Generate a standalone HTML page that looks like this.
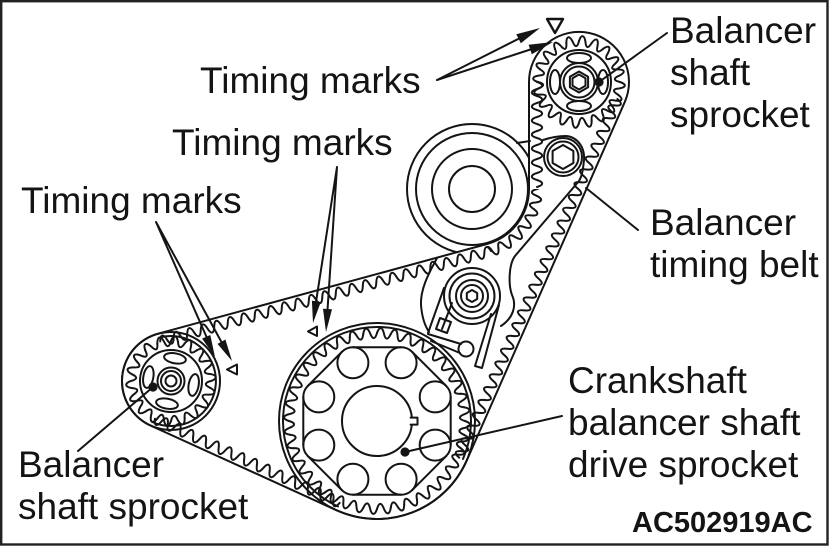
<!DOCTYPE html>
<html><head><meta charset="utf-8"><style>
html,body{margin:0;padding:0;background:#fff}
svg{display:block}
.s{fill:none;stroke:#141414;stroke-width:2;stroke-linejoin:round;stroke-linecap:round}
.f{fill:#141414;stroke:none}
text{font-family:"Liberation Sans",Arial,sans-serif;fill:#141414;font-size:37px}
</style></head><body>
<svg width="829" height="546" viewBox="0 0 829 546" xmlns="http://www.w3.org/2000/svg">
<defs>
<path id="tT" class="s" d="M0,-41 C2.25,-47.62 5.23,-47.38 6.41,-40.5 C6.96,-33.62 9.06,-33.11 12.67,-38.99"/>
<g id="T2"><use href="#tT"/><use href="#tT" transform="rotate(18)"/></g>
<g id="T4"><use href="#T2"/><use href="#T2" transform="rotate(36)"/></g>
<g id="T8"><use href="#T4"/><use href="#T4" transform="rotate(72)"/></g>
<g id="T16"><use href="#T8"/><use href="#T8" transform="rotate(144)"/></g>
<g id="T20"><use href="#T16"/><use href="#T4" transform="rotate(288)"/></g>

<path id="tL" class="s" d="M0,-40 C2.44,-46.61 5.69,-46.32 6.95,-39.39 C7.5,-32.48 9.75,-31.88 13.68,-37.59"/>
<g id="L2"><use href="#tL"/><use href="#tL" transform="rotate(20)"/></g>
<g id="L4"><use href="#L2"/><use href="#L2" transform="rotate(40)"/></g>
<g id="L8"><use href="#L4"/><use href="#L4" transform="rotate(80)"/></g>
<g id="L16"><use href="#L8"/><use href="#L8" transform="rotate(160)"/></g>
<g id="L18"><use href="#L16"/><use href="#L2" transform="rotate(320)"/></g>

<path id="tC" class="s" d="M0,-88 C2.23,-94.64 5.2,-94.53 6.9,-87.73 C8.29,-80.91 10.83,-80.61 13.77,-86.92"/>
<g id="C2"><use href="#tC"/><use href="#tC" transform="rotate(9)"/></g>
<g id="C4"><use href="#C2"/><use href="#C2" transform="rotate(18)"/></g>
<g id="C8"><use href="#C4"/><use href="#C4" transform="rotate(36)"/></g>
<g id="C16"><use href="#C8"/><use href="#C8" transform="rotate(72)"/></g>
<g id="C32"><use href="#C16"/><use href="#C16" transform="rotate(144)"/></g>
<g id="C40"><use href="#C32"/><use href="#C8" transform="rotate(288)"/></g>

<path id="tI" class="s" d="M0,-65 C2.25,-71.63 5.25,-71.47 6.79,-64.64 C7.92,-57.79 10.33,-57.41 13.51,-63.58"/>
<g id="I2"><use href="#tI"/><use href="#tI" transform="rotate(12)"/></g>
<g id="I4"><use href="#I2"/><use href="#I2" transform="rotate(24)"/></g>
<g id="I8"><use href="#I4"/><use href="#I4" transform="rotate(48)"/></g>
<g id="I16"><use href="#I8"/><use href="#I8" transform="rotate(96)"/></g>
<g id="I30"><use href="#I16"/><use href="#I8" transform="rotate(192)"/><use href="#I4" transform="rotate(288)"/><use href="#I2" transform="rotate(336)"/></g>

<clipPath id="outside"><path clip-rule="evenodd" d="M0,0 H829 V546 H0 Z M529,82 A50,50 0 1 1 624.7,102.2 L466.7,460.6 A98,98 0 0 1 336.4,510.2 L150.7,425.6 A49,49 0 0 1 158.1,333.7 L487,244 A57,57 0 0 0 529,189 Z"/></clipPath>
<clipPath id="sec"><polygon points="472,189 600,189 600,330 506.2,314.4"/></clipPath>
</defs>

<rect width="829" height="546" fill="#fff"/>

<!-- big idler -->
<g clip-path="url(#outside)">
<circle class="s" cx="472" cy="189" r="65"/>
<circle class="s" cx="472" cy="189" r="56"/>
<circle class="s" cx="472" cy="189" r="40"/>
<circle class="s" cx="472" cy="189" r="23"/>
</g>
<line class="s" x1="517" y1="143" x2="530" y2="141"/>

<!-- bracket & hex bolt -->
<path class="s" d="M543,140 C552,137 560,136 566,136 C578,137 585,148 584,160 C583,170 582,176 579,181 L515,256 C509,264 508,284 512,295 C517,306 513,318 501,326"/>
<path class="s" d="M437,258 C432,268 420,287 421,305 C422,318 425,326 429,332"/>
<circle class="s" cx="563" cy="157" r="19"/>
<circle class="s" cx="563" cy="157" r="15.5"/>
<polygon class="s" points="563,145 573.4,151 573.4,163 563,169 552.6,163 552.6,151"/>

<!-- tensioner -->
<circle class="s" cx="472" cy="296" r="28"/>
<circle class="s" cx="472" cy="296" r="22.5"/>
<circle class="s" cx="472" cy="296" r="16"/>
<circle class="s" cx="472" cy="296" r="11"/>
<polygon class="s" points="472,290 477.2,293 477.2,299 472,302 466.8,299 466.8,293"/>
<path class="s" d="M499,305 L482,368 L475,366 L491,314"/>
<path class="s" d="M444,288 L428,333 M452,303 L442,329"/>
<polygon class="s" points="440,318 451,322 447,333 436,329"/>
<path class="s" d="M428,334 L461,344 M431,341 L460,353"/>
<circle class="s" cx="466" cy="349" r="7.5" fill="#fff"/>

<!-- crankshaft sprocket -->
<circle class="s" cx="377" cy="421" r="98"/>
<path class="s" d="M338,506.5 A94,94 0 1 1 463,458.9"/>
<use href="#C40" transform="translate(377,421)"/>
<path class="s" d="M450.7,396.9 L450.7,445.1 M446.2,456.1 L412.1,490.2 M401.1,494.7 L352.9,494.7 M341.9,490.2 L307.8,456.1 M303.3,445.1 L303.3,396.9 M307.8,385.9 L341.9,351.8 M352.9,347.3 L401.1,347.3 M412.1,351.8 L446.2,385.9"/>
<circle class="s" cx="435.2" cy="445.1" r="15.5" fill="#fff"/>
<circle class="s" cx="401.1" cy="479.2" r="15.5" fill="#fff"/>
<circle class="s" cx="352.9" cy="479.2" r="15.5" fill="#fff"/>
<circle class="s" cx="318.8" cy="445.1" r="15.5" fill="#fff"/>
<circle class="s" cx="318.8" cy="396.9" r="15.5" fill="#fff"/>
<circle class="s" cx="352.9" cy="362.8" r="15.5" fill="#fff"/>
<circle class="s" cx="401.1" cy="362.8" r="15.5" fill="#fff"/>
<circle class="s" cx="435.2" cy="396.9" r="15.5" fill="#fff"/>
<circle class="s" cx="377" cy="421" r="35"/>
<rect x="409" y="417.8" width="4" height="6.4" fill="#fff"/>
<path class="s" d="M410.6,417.6 L417.5,417.6 L417.5,424.6 L410.6,424.6"/>
<circle class="f" cx="405" cy="452" r="4.6"/>

<!-- left balancer sprocket -->
<circle class="s" cx="171" cy="381" r="49"/>
<path class="s" d="M159.1,337.6 A45,45 0 1 1 152.3,422"/>
<use href="#L18" transform="translate(171,381)"/>
<circle class="s" cx="171" cy="381" r="31"/>
<g transform="rotate(10 171 381)">
<ellipse class="s" cx="171" cy="358" rx="11" ry="5"/>
<ellipse class="s" cx="171" cy="404" rx="11" ry="5"/>
<ellipse class="s" cx="148" cy="381" rx="5" ry="11"/>
<ellipse class="s" cx="194" cy="381" rx="5" ry="11"/>
</g>
<circle class="s" cx="171" cy="381" r="13.5"/>
<circle class="s" cx="171" cy="381" r="10"/>
<circle class="s" cx="171" cy="381" r="5.5"/>
<circle class="f" cx="153" cy="387" r="4.6"/>

<!-- top balancer sprocket -->
<use href="#T20" transform="translate(579,82)"/>
<circle class="s" cx="579" cy="82" r="32"/>
<ellipse class="s" cx="579" cy="58" rx="12" ry="5"/>
<ellipse class="s" cx="579" cy="106" rx="12" ry="5"/>
<ellipse class="s" cx="555" cy="82" rx="5" ry="12"/>
<ellipse class="s" cx="603" cy="82" rx="5" ry="12"/>
<circle class="s" cx="579" cy="82" r="19"/>
<circle class="s" cx="579" cy="82" r="15.5"/>
<polygon class="s" points="579,71.5 588.1,76.75 588.1,87.25 579,92.5 569.9,87.25 569.9,76.75"/>
<polygon class="s" points="579,74.5 585.5,78.25 585.5,85.75 579,89.5 572.5,85.75 572.5,78.25"/>
<circle class="f" cx="599" cy="82" r="4.6"/>

<!-- belt -->
<path class="s" d="M529,82 A50,50 0 1 1 624.7,102.2 L466.7,460.6 A98,98 0 0 1 336.4,510.2 L150.7,425.6 A49,49 0 0 1 158.1,333.7 L487,244 A57,57 0 0 0 529,189 Z"/>
<path class="s" transform="translate(537,82) rotate(90)" d="M0,0 c2.1,-6.9 4.9,-6.9 7,0 s4.9,6.9 7,0 s4.9,-6.9 7,0 s4.9,6.9 7,0 s4.9,-6.9 7,0 s4.9,6.9 7,0 s4.9,-6.9 7,0 s4.9,6.9 7,0 s4.9,-6.9 7,0 s4.9,6.9 7,0 s4.9,-6.9 7,0 s4.9,6.9 7,0 s4.9,-6.9 7,0 s4.9,6.9 7,0 s4.9,-6.9 7,0"/>
<path class="s" transform="translate(617.4,99) rotate(113.8)" d="M0,0 c2.1,-6.9 4.9,-6.9 7,0 s4.9,6.9 7,0 s4.9,-6.9 7,0 s4.9,6.9 7,0 s4.9,-6.9 7,0 s4.9,6.9 7,0 s4.9,-6.9 7,0 s4.9,6.9 7,0 s4.9,-6.9 7,0 s4.9,6.9 7,0 s4.9,-6.9 7,0 s4.9,6.9 7,0 s4.9,-6.9 7,0 s4.9,6.9 7,0 s4.9,-6.9 7,0 s4.9,6.9 7,0 s4.9,-6.9 7,0 s4.9,6.9 7,0 s4.9,-6.9 7,0 s4.9,6.9 7,0 s4.9,-6.9 7,0 s4.9,6.9 7,0 s4.9,-6.9 7,0 s4.9,6.9 7,0 s4.9,-6.9 7,0 s4.9,6.9 7,0 s4.9,-6.9 7,0 s4.9,6.9 7,0 s4.9,-6.9 7,0 s4.9,6.9 7,0 s4.9,-6.9 7,0 s4.9,6.9 7,0 s4.9,-6.9 7,0 s4.9,6.9 7,0 s4.9,-6.9 7,0 s4.9,6.9 7,0 s4.9,-6.9 7,0 s4.9,6.9 7,0 s4.9,-6.9 7,0 s4.9,6.9 7,0 s4.9,-6.9 7,0 s4.9,6.9 7,0 s4.9,-6.9 7,0 s4.9,6.9 7,0 s4.9,-6.9 7,0 s4.9,6.9 7,0 s4.9,-6.9 7,0 s4.9,6.9 7,0 s4.9,-6.9 7,0 s4.9,6.9 7,0 s4.9,-6.9 7,0 s4.9,6.9 7,0 s4.9,-6.9 7,0 s4.9,6.9 7,0 s4.9,-6.9 7,0 s4.9,6.9 7,0"/>
<path class="s" transform="translate(339.7,502.9) rotate(204.5)" d="M0,0 c2.1,-6.9 4.9,-6.9 7,0 s4.9,6.9 7,0 s4.9,-6.9 7,0 s4.9,6.9 7,0 s4.9,-6.9 7,0 s4.9,6.9 7,0 s4.9,-6.9 7,0 s4.9,6.9 7,0 s4.9,-6.9 7,0 s4.9,6.9 7,0 s4.9,-6.9 7,0 s4.9,6.9 7,0 s4.9,-6.9 7,0 s4.9,6.9 7,0 s4.9,-6.9 7,0 s4.9,6.9 7,0 s4.9,-6.9 7,0 s4.9,6.9 7,0 s4.9,-6.9 7,0 s4.9,6.9 7,0 s4.9,-6.9 7,0 s4.9,6.9 7,0 s4.9,-6.9 7,0 s4.9,6.9 7,0 s4.9,-6.9 7,0 s4.9,6.9 7,0 s4.9,-6.9 7,0 s4.9,6.9 7,0 s4.9,-6.9 7,0"/>
<path class="s" transform="translate(160.2,341.4) rotate(-15.26)" d="M0,0 c2.1,-6.9 4.9,-6.9 7,0 s4.9,6.9 7,0 s4.9,-6.9 7,0 s4.9,6.9 7,0 s4.9,-6.9 7,0 s4.9,6.9 7,0 s4.9,-6.9 7,0 s4.9,6.9 7,0 s4.9,-6.9 7,0 s4.9,6.9 7,0 s4.9,-6.9 7,0 s4.9,6.9 7,0 s4.9,-6.9 7,0 s4.9,6.9 7,0 s4.9,-6.9 7,0 s4.9,6.9 7,0 s4.9,-6.9 7,0 s4.9,6.9 7,0 s4.9,-6.9 7,0 s4.9,6.9 7,0 s4.9,-6.9 7,0 s4.9,6.9 7,0 s4.9,-6.9 7,0 s4.9,6.9 7,0 s4.9,-6.9 7,0 s4.9,6.9 7,0 s4.9,-6.9 7,0 s4.9,6.9 7,0 s4.9,-6.9 7,0 s4.9,6.9 7,0 s4.9,-6.9 7,0 s4.9,6.9 7,0 s4.9,-6.9 7,0 s4.9,6.9 7,0 s4.9,-6.9 7,0 s4.9,6.9 7,0 s4.9,-6.9 7,0 s4.9,6.9 7,0 s4.9,-6.9 7,0 s4.9,6.9 7,0 s4.9,-6.9 7,0 s4.9,6.9 7,0 s4.9,-6.9 7,0 s4.9,6.9 7,0 s4.9,-6.9 7,0 s4.9,6.9 7,0 s4.9,-6.9 7,0 s4.9,6.9 7,0 s4.9,-6.9 7,0"/>
<g clip-path="url(#sec)"><use href="#I30" transform="translate(472,189)"/></g>

<!-- timing mark arrows -->
<path class="s" d="M437,80 L530,33 M437,80 L541,46"/>
<polygon class="f" points="540,28 520.8,43.3 516.3,34.3"/>
<polygon class="f" points="553,42 531.8,54.2 528.6,44.7"/>
<path class="s" d="M547,19 L563,19 L555,33 Z" style="stroke-width:2.4"/>

<path class="s" d="M337,167 L316,302 M337,167 L327.5,310"/>
<polygon class="f" points="313,323 320.8,302 311.9,300.6"/>
<polygon class="f" points="326,332 332,309.3 323,308.7"/>
<path class="s" d="M308,331.5 L317,326.5 L317,336 Z"/>

<path class="s" d="M156,222 L207,338 M156,222 L222,343"/>
<polygon class="f" points="215,357 210.3,335 202.1,338.6"/>
<polygon class="f" points="232,361 225.4,339.5 217.5,343.9"/>
<path class="s" d="M227,369.5 L237,364.5 L237,374.5 Z"/>

<!-- leaders -->
<path class="s" d="M599,82 L667,33 M586,188 L638,230 M405,452 L562,416 M153,387 L78,451"/>

<!-- labels -->
<text x="200" y="93">Timing marks</text>
<text x="172" y="155">Timing marks</text>
<text x="21" y="213">Timing marks</text>
<text x="670" y="43">Balancer</text>
<text x="670" y="85">shaft</text>
<text x="670" y="127">sprocket</text>
<text x="650" y="235">Balancer</text>
<text x="650" y="277">timing belt</text>
<text x="568" y="393">Crankshaft</text>
<text x="568" y="435">balancer shaft</text>
<text x="568" y="477">drive sprocket</text>
<text x="18" y="477">Balancer</text>
<text x="18" y="519">shaft sprocket</text>
<text x="632" y="532" style="font-size:29px;font-weight:bold">AC502919AC</text>

<rect x="1.2" y="1.2" width="826.3" height="543.3" fill="none" stroke="#222" stroke-width="2.4"/>
</svg>
</body></html>
